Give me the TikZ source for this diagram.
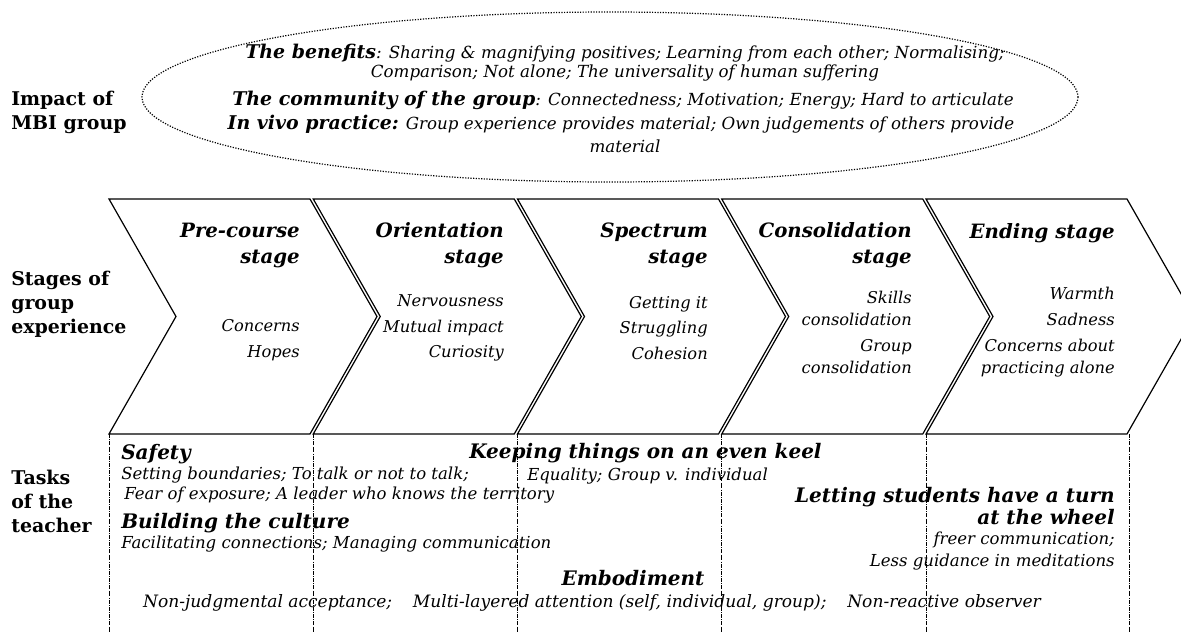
\documentclass[tikz,border=0pt]{standalone}
\usepackage{fontspec}
\setmainfont{DejaVu Serif}
\usepackage{tikz}
\usetikzlibrary{positioning}

\newcommand\ellhead[1]{{\fontsize{14.2}{16}\selectfont\bfseries\itshape #1}}

\tikzset{
  side/.style={font=\fontsize{14.2}{18}\selectfont\bfseries, align=left, anchor=west, inner sep=0pt},
  chev/.style={draw, line width=0.9pt, line join=miter},
  ell/.style={line width=0.9pt, dash pattern=on 0.9pt off 1.1pt},
  lane/.style={densely dashdotted, line width=0.5pt},
  stagehead/.style={font=\fontsize{14.8}{19.5}\selectfont\bfseries\itshape, align=right, anchor=east, inner sep=0pt},
  stagebody/.style={font=\fontsize{12.2}{16.5}\selectfont\itshape, align=right, anchor=east, inner sep=0pt},
  ellbody/.style={font=\fontsize{12.5}{16}\selectfont\itshape, inner sep=0pt},
  head/.style={font=\fontsize{15}{16.5}\selectfont\bfseries\itshape, inner sep=0pt},
  body/.style={font=\fontsize{12.4}{16.5}\selectfont\itshape, inner sep=0pt},
}

\begin{document}
\begin{tikzpicture}[x=0.75pt,y=-0.75pt]
    \useasboundingbox (0,0) rectangle (1181,632);
    \clip (0,0) rectangle (1181,632);

    \draw[ell] (610,97) ellipse [x radius=468, y radius=85];
    \node[ellbody] (ben1) at (625,53) {\ellhead{The benefits}: Sharing \& magnifying positives; Learning from each other; Normalising;};
    \node[ellbody] (ben2) at (625,73) {Comparison; Not alone; The universality of human suffering};
    \node[ellbody] (comm) at (623,100) {\ellhead{The community of the group}: Connectedness; Motivation; Energy; Hard to articulate};
    \node[ellbody] (vivo1) at (621,124) {\ellhead{In vivo practice:} Group experience provides material; Own judgements of others provide};
    \node[ellbody] (vivo2) at (625,146) {material};

    \node[side] (impact) at (11,112) {Impact of\\MBI group};
    \node[side] (stages) at (11,304) {Stages of\\group\\experience};
    \node[side] (tasks) at (11,501) {Tasks\\of the\\teacher};

    \foreach \i in {0,...,4} {
      \pgfmathsetmacro\lx{109+204.25*\i}
      \draw[chev] (\lx,199) -- ++(201,0) -- ++(67,117.5) -- ++(-67,117.5) -- ++(-201,0) -- ++(67,-117.5) -- cycle;
      \draw[lane] (\lx,434) -- (\lx,632);
    }
    \draw[lane] (1129,434) -- (1129,632);

    \node[stagehead] (pre) at (300,245) {Pre-course\\stage};
    \node[stagebody] (preb) at (300,340) {Concerns\\[2.5pt]Hopes};
    \node[stagehead] (ori) at (504,245) {Orientation\\stage};
    \node[stagebody] (orib) at (504,328) {Nervousness\\[2.5pt]Mutual impact\\[2.5pt]Curiosity};
    \node[stagehead] (spec) at (708,245) {Spectrum\\stage};
    \node[stagebody] (specb) at (708,328) {Getting it\\[2.5pt]Struggling\\[2.5pt]Cohesion};
    \node[stagehead] (cons) at (912,245) {Consolidation\\stage};
    \node[stagebody] (consb) at (912,332) {Skills\\consolidation\\[3pt]Group\\consolidation};
    \node[stagehead] (end) at (1115,233) {Ending stage};
    \node[stagebody] (endb) at (1115,332) {Warmth\\[3pt]Sadness\\[3pt]Concerns about\\practicing alone};

    \node[head, anchor=west] (safety) at (121,454) {Safety};
    \node[body, anchor=west] (safe1) at (121,475) {Setting boundaries; To talk or not to talk;};
    \node[body, anchor=west] (safe2) at (124,495) {Fear of exposure; A leader who knows the territory};
    \node[head, anchor=west] (cult) at (121,523) {Building the culture};
    \node[body, anchor=west] (cult1) at (121,544) {Facilitating connections; Managing communication};
    \node[head, anchor=west] (keel) at (469,453) {Keeping things on an even keel};
    \node[body, anchor=west] (keel1) at (527,476) {Equality; Group v. individual};
    \node[head, align=right, anchor=east] (wheel) at (1115,506) {Letting students have a turn\\at the wheel};
    \node[body, align=right, anchor=east] (wheel1) at (1115,551) {freer communication;\\Less guidance in meditations};
    \node[head] (embod) at (633,578) {Embodiment};
    \node[body, font=\fontsize{12.8}{16.5}\selectfont\itshape] (embod1) at (592,603) {Non-judgmental acceptance;\hspace{0.9em} Multi-layered attention (self, individual, group);\hspace{0.9em} Non-reactive observer};
\end{tikzpicture}
\end{document}
